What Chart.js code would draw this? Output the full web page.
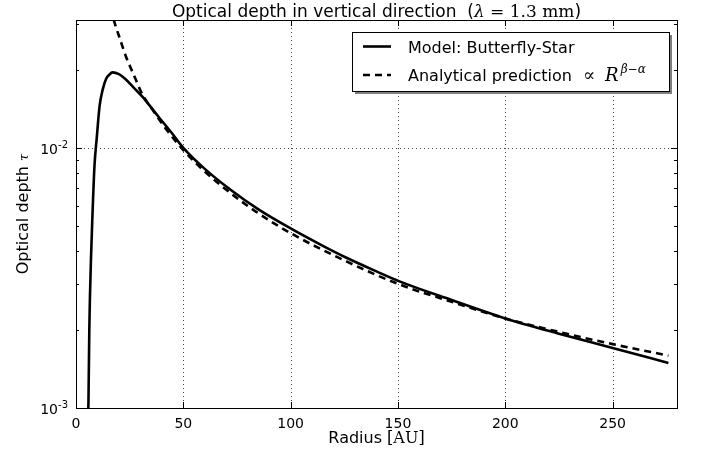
<!DOCTYPE html>
<html>
<head>
<meta charset="utf-8">
<script src="https://cdn.jsdelivr.net/npm/chart.js@4"></script>
<style>
  html, body { margin: 0; padding: 0; background: #fff; }
  #wrap { width: 701px; height: 455px; }
</style>
</head>
<body>
<div id="wrap"><canvas id="tauChart" width="701" height="455"></canvas></div>
<script>
// values
const modelR = [5.5, 5.8, 6.2, 7.0, 7.8, 8.6, 9.7, 11, 12.4, 14, 15.5, 17, 20, 23, 27, 31, 35, 39, 45, 50,
                60, 72, 85, 100, 115, 126, 140, 151, 175, 200, 225, 250, 276];
const modelTau = [0.0009, 0.00105, 0.0020, 0.0038, 0.0059, 0.0085, 0.0110, 0.0145, 0.0167, 0.0184, 0.0191, 0.0195,
                  0.0192, 0.0184, 0.0170, 0.0157, 0.0143, 0.0130, 0.0113, 0.0100,
                  0.0083, 0.0069, 0.0058, 0.0049, 0.00420, 0.00378, 0.00335, 0.00306, 0.00260, 0.00221, 0.00193, 0.00170, 0.00149];

const predR = [16, 18, 20.5, 23.3, 27, 31, 35.7, 42, 50, 60, 72, 85, 100, 126, 150, 175, 200, 225, 250, 276];
const predTau = [0.0345, 0.0302, 0.0262, 0.0224, 0.0190, 0.0160, 0.0140, 0.0118, 0.0098, 0.0081, 0.0067, 0.0056,
                 0.0047, 0.00366, 0.00300, 0.00256, 0.00221, 0.00196, 0.00176, 0.00159];

const xTicks = [0, 50, 100, 150, 200, 250];
const yMajor = [0.001, 0.01];
const xRange = [0, 280];
const yRange = [0.001, 0.031];

const SANS = '"DejaVu Sans", sans-serif';
const SERIF = '"DejaVu Serif", serif';

// draw a row of text pieces with different fonts (gap = extra space in px)
function drawRuns(ctx, runs, x, y, align) {
    let w = 0;
    runs.forEach(r => {
        if (r.gap) { w += r.gap; return; }
        ctx.font = r.f; w += ctx.measureText(r.t).width;
    });
    let cx = align === 'center' ? x - w / 2 : (align === 'right' ? x - w : x);
    ctx.textAlign = 'left';
    ctx.textBaseline = 'alphabetic';
    runs.forEach(r => {
        if (r.gap) { cx += r.gap; return; }
        ctx.font = r.f;
        ctx.fillText(r.t, cx, y + (r.dy || 0));
        cx += ctx.measureText(r.t).width;
    });
}

function isDecade(v) {
    const l = Math.log10(v);
    return Math.abs(l - Math.round(l)) < 1e-6;
}

const mplPlugin = {
    id: 'mpl',
    beforeDraw(chart) {
        const ctx = chart.ctx;
        ctx.save();
        ctx.fillStyle = '#fff';
        ctx.fillRect(0, 0, chart.width, chart.height);
        ctx.restore();
    },
    beforeDatasetsDraw(chart) {
        const ctx = chart.ctx, a = chart.chartArea;
        const xs = chart.scales.x, ys = chart.scales.y;
        ctx.save();
        ctx.strokeStyle = 'rgba(0,0,0,0.75)';
        ctx.lineWidth = 1;
        ctx.setLineDash([1, 3]);
        xTicks.forEach(v => {
            if (v <= xRange[0]) return;
            const px = Math.round(xs.getPixelForValue(v)) + 0.5;
            ctx.beginPath(); ctx.moveTo(px, a.top); ctx.lineTo(px, a.bottom); ctx.stroke();
        });
        yMajor.forEach(v => {
            if (v <= yRange[0]) return;
            const py = Math.round(ys.getPixelForValue(v)) + 0.5;
            ctx.beginPath(); ctx.moveTo(a.left, py); ctx.lineTo(a.right, py); ctx.stroke();
        });
        ctx.restore();
    },
    afterDatasetsDraw(chart) {
        const ctx = chart.ctx, a = chart.chartArea;
        const xs = chart.scales.x, ys = chart.scales.y;
        ctx.save();
        ctx.strokeStyle = '#000';
        ctx.fillStyle = '#000';
        ctx.lineWidth = 1;
        ctx.setLineDash([]);

        // inward ticks
        xTicks.forEach(v => {
            const px = Math.round(xs.getPixelForValue(v)) + 0.5;
            ctx.beginPath();
            ctx.moveTo(px, a.bottom); ctx.lineTo(px, a.bottom - 6);
            ctx.moveTo(px, a.top); ctx.lineTo(px, a.top + 6);
            ctx.stroke();
        });
        ys.ticks.forEach(t => {
            const v = t.value;
            const l = Math.floor(Math.log10(v) + 1e-9);
            const sig = v / Math.pow(10, l);
            if (Math.abs(sig - Math.round(sig)) > 1e-6) return;
            const len = isDecade(v) ? 6 : 3;
            const py = Math.round(ys.getPixelForValue(v)) + 0.5;
            ctx.beginPath();
            ctx.moveTo(a.left, py); ctx.lineTo(a.left + len, py);
            ctx.moveTo(a.right, py); ctx.lineTo(a.right - len, py);
            ctx.stroke();
        });

        // frame
        ctx.strokeRect(Math.round(a.left) + 0.5, Math.round(a.top) + 0.5,
                       Math.round(a.right - a.left), Math.round(a.bottom - a.top));

        // tick labels
        ctx.font = '14px ' + SANS;
        ctx.textAlign = 'center';
        ctx.textBaseline = 'alphabetic';
        xTicks.forEach(v => {
            ctx.fillText(String(v), xs.getPixelForValue(v), a.bottom + 20);
        });
        yMajor.forEach(v => {
            const py = ys.getPixelForValue(v);
            const e = Math.round(Math.log10(v));
            drawRuns(ctx, [
                { t: '10', f: '14px ' + SANS },
                { t: String(e), f: '10px ' + SANS, dy: -6 }
            ], a.left - 8, py + 6, 'right');
        });

        // legend
        const lx = 352, ly = 32, lw = 317, lh = 59;
        ctx.fillStyle = '#7f7f7f';
        ctx.fillRect(lx + 3, ly + 3, lw, lh);
        ctx.fillStyle = '#fff';
        ctx.fillRect(lx, ly, lw, lh);
        ctx.strokeStyle = '#000';
        ctx.strokeRect(lx + 0.5, ly + 0.5, lw, lh);
        const rows = [46.5, 75];
        chart.data.datasets.forEach((ds, i) => {
            const ry = rows[i];
            ctx.save();
            ctx.strokeStyle = ds.borderColor;
            ctx.lineWidth = ds.borderWidth;
            ctx.setLineDash(ds.borderDash || []);
            ctx.beginPath(); ctx.moveTo(363, ry); ctx.lineTo(391, ry); ctx.stroke();
            ctx.restore();
            ctx.fillStyle = '#000';
            drawRuns(ctx, ds.legendRuns, 408, ry + 6, 'left');
        });
        ctx.restore();
    },
    afterDraw(chart) {
        const ctx = chart.ctx, a = chart.chartArea;
        const cx = (a.left + a.right) / 2;
        ctx.save();
        ctx.fillStyle = '#000';
        drawRuns(ctx, [
            { t: 'Optical depth in vertical direction  (', f: '17px ' + SANS },
            { t: 'λ', f: 'italic 17px ' + SERIF },
            { t: ' = 1.3 mm', f: '17px ' + SERIF },
            { t: ')', f: '17px ' + SANS }
        ], cx, 17, 'center');
        drawRuns(ctx, [
            { t: 'Radius ', f: '16px ' + SANS },
            { t: '[AU]', f: '16px ' + SERIF }
        ], cx, 443, 'center');
        ctx.translate(22, (a.top + a.bottom) / 2);
        ctx.rotate(-Math.PI / 2);
        drawRuns(ctx, [
            { t: 'Optical depth ', f: '16px ' + SANS },
            { t: 'τ', f: 'italic 13px ' + SERIF }
        ], 0, 6, 'center');
        ctx.restore();
    }
};

new Chart(document.getElementById('tauChart'), {
    type: 'line',
    data: {
        datasets: [{
            label: 'Model: Butterfly-Star',
            legendRuns: [{ t: 'Model: Butterfly-Star', f: '16px ' + SANS }],
            data: modelR.map((r, i) => ({ x: r, y: modelTau[i] })),
            borderColor: '#000',
            borderWidth: 2.6,
            pointRadius: 0,
            cubicInterpolationMode: 'monotone',
            fill: false
        }, {
            label: 'Analytical prediction ∝ R^(β−α)',
            legendRuns: [
                { t: 'Analytical prediction', f: '16px ' + SANS },
                { gap: 11 },
                { t: '∝', f: '18px ' + SERIF },
                { gap: 10 },
                { t: 'R', f: 'italic 18px ' + SERIF },
                { gap: 2 },
                { t: 'β−α', f: 'italic 12px ' + SERIF, dy: -8 }
            ],
            data: predR.map((r, i) => ({ x: r, y: predTau[i] })),
            borderColor: '#000',
            borderWidth: 2.6,
            borderDash: [7, 5],
            pointRadius: 0,
            cubicInterpolationMode: 'monotone',
            fill: false
        }]
    },
    options: {
        responsive: false,
        devicePixelRatio: 1,
        animation: false,
        layout: { padding: { left: 76, top: 20, right: 24, bottom: 47 } },
        plugins: { legend: { display: false }, title: { display: false }, tooltip: { enabled: false } },
        scales: {
            x: { type: 'linear', min: xRange[0], max: xRange[1], display: false },
            y: { type: 'logarithmic', min: yRange[0], max: yRange[1], display: false }
        }
    },
    plugins: [mplPlugin]
});
</script>
</body>
</html>
